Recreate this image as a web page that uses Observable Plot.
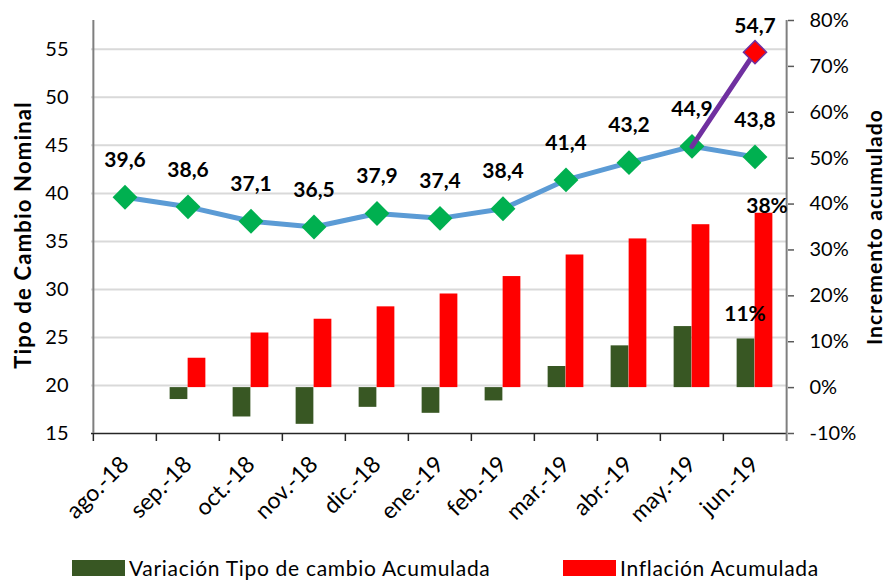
<!DOCTYPE html>
<html><head><meta charset="utf-8">
<script src="https://cdn.jsdelivr.net/npm/d3@7"></script>
<script src="https://cdn.jsdelivr.net/npm/@observablehq/plot@0.6"></script>
<style>
body{margin:0;background:#fff;font-family:Lato,sans-serif;}
#wrap{position:relative;width:887px;height:581px;overflow:hidden;background:#fff;}
#wrap svg{position:absolute;left:0;top:0;}
.leg{position:absolute;top:556px;height:24px;line-height:24px;display:flex;align-items:center;font-size:21px;letter-spacing:0.7px;color:#000;white-space:nowrap;}
.sw{width:53px;height:16px;margin-right:4px;}
</style></head><body><div id="wrap"></div>
<script>
const meses = ["ago.-18","sep.-18","oct.-18","nov.-18","dic.-18","ene.-19","feb.-19","mar.-19","abr.-19","may.-19","jun.-19"];
const tipoCambio = [39.6,38.6,37.1,36.5,37.9,37.4,38.4,41.4,43.2,44.9,43.8];
const variacionTC = [0,-2.6,-6.4,-8.0,-4.3,-5.6,-2.9,4.6,9.1,13.3,10.6];
const inflacion = [0,6.4,11.9,14.9,17.6,20.4,24.2,28.9,32.4,35.5,38.0];
const proyMeses = ["may.-19","jun.-19"];
const proyValores = [44.9,54.7];
const leftTicks = [15,20,25,30,35,40,45,50,55];
const pctTicks = [-10,0,10,20,30,40,50,60,70,80];
const serieNombres = ["Variación Tipo de cambio Acumulada","Inflación Acumulada"];
const ejeIzq = "Tipo de Cambio Nominal";
const ejeDer = "Incremento acumulado";

const rows = meses.map((m,i)=>({mes:m, tc:tipoCambio[i], vtc:variacionTC[i], inf:inflacion[i]}));
const proy = proyMeses.map((m,i)=>({mes:m, v:proyValores[i]}));
const yMin=15, yMax=58, pMin=-10, pMax=80;
const toY = p => yMin + (p - pMin)*(yMax - yMin)/(pMax - pMin);
const fromY = v => pMin + (v - yMin)*(pMax - pMin)/(yMax - yMin);
const W=887, H=540, mL=91, mR=100, mT=20, mB=107;
const bw = (W - mL - mR)/meses.length;
const barW = 18;
const fmt = v => v.toFixed(1).replace(".", ",");
const last = rows[rows.length-1];

const chart = Plot.plot({
  width:W, height:H, marginTop:mT, marginRight:mR, marginBottom:mB, marginLeft:mL,
  style:{fontFamily:"Lato, sans-serif", fontSize:"20px", color:"#000", background:"white", overflow:"visible"},
  x:{type:"band", domain:meses, padding:0, label:null},
  y:{domain:[yMin,yMax], label:null},
  marks:[
    Plot.gridY(leftTicks.filter(t=>t>yMin), {stroke:"#d9d9d9", strokeOpacity:1, strokeWidth:2}),
    Plot.barY(rows.filter(d=>d.vtc!==0), {x:"mes", y1:toY(0), y2:d=>toY(d.vtc), fill:"#385723", insetLeft:bw/2-barW, insetRight:bw/2}),
    Plot.barY(rows.filter(d=>d.inf!==0), {x:"mes", y1:toY(0), y2:d=>toY(d.inf), fill:"#ff0000", insetLeft:bw/2, insetRight:bw/2-barW}),
    Plot.ruleY([yMin], {stroke:"#262626", strokeWidth:1.5}),
    Plot.ruleX([meses[0]], {dx:-bw/2, stroke:"#7f7f7f", strokeWidth:2}),
    Plot.ruleX([meses[meses.length-1]], {dx:bw/2, stroke:"#7f7f7f", strokeWidth:2, insetBottom:-8}),
    Plot.ruleX(meses, {dx:-bw/2, stroke:"#262626", strokeWidth:1.5, insetTop:H-mT-mB, insetBottom:-8}),
    Plot.axisY(leftTicks, {anchor:"left", tickSize:0, tickPadding:23, fontSize:20, label:null}),
    Plot.axisY(pctTicks.map(toY), {anchor:"right", tickSize:6, tickPadding:16, fontSize:20, stroke:"#595959", strokeWidth:1.5, tickFormat:v=>Math.round(fromY(v))+"%", label:null}),
    Plot.axisX({anchor:"bottom", tickSize:0, tickPadding:27, tickRotate:-45, fontSize:23, label:null}),
    Plot.line(rows, {x:"mes", y:"tc", stroke:"#5b9bd5", strokeWidth:5}),
    Plot.dot(rows, {x:"mes", y:"tc", symbol:"diamond2", r:11.2, fill:"#00b050"}),
    Plot.line(proy, {x:"mes", y:"v", stroke:"#7030a0", strokeWidth:5}),
    Plot.dot(proy.slice(1), {x:"mes", y:"v", symbol:"diamond2", r:10.4, fill:"#ff0000", stroke:"#7030a0", strokeWidth:1.5}),
    Plot.text(rows, {x:"mes", y:"tc", text:d=>fmt(d.tc), dy:-37, fontWeight:"bold", fontSize:21}),
    Plot.text(proy.slice(1), {x:"mes", y:"v", text:d=>fmt(d.v), dy:-26, fontWeight:"bold", fontSize:21}),
    Plot.text([last], {x:"mes", y:d=>toY(d.inf), text:d=>Math.round(d.inf)+"%", dx:12, dy:-7, fontWeight:"bold", fontSize:21}),
    Plot.text([last], {x:"mes", y:d=>toY(d.vtc), text:d=>Math.round(d.vtc)+"%", dx:-10, dy:-25, fontWeight:"bold", fontSize:21}),
    Plot.text([ejeIzq], {frameAnchor:"left", dx:-68, dy:8, rotate:-90, textAnchor:"middle", fontWeight:"bold", fontSize:22}),
    Plot.text([ejeDer], {frameAnchor:"right", dx:88, dy:0, rotate:-90, textAnchor:"middle", fontWeight:"bold", fontSize:21})
  ]
});
d3.select(chart).selectAll("text").each(function(){
  if (this.textContent === ejeIzq) d3.select(this).attr("letter-spacing", "1.2px");
  if (this.textContent === ejeDer) d3.select(this).attr("letter-spacing", "1.1px");
});
const wrap = document.getElementById("wrap");
wrap.appendChild(chart);
const cols = ["#385723","#ff0000"];
const lefts = [72,563];
serieNombres.forEach((n,i)=>{
  const d = document.createElement("div");
  d.className = "leg";
  d.style.left = lefts[i]+"px";
  d.innerHTML = `<span class="sw" style="background:${cols[i]}"></span><span>${n}</span>`;
  wrap.appendChild(d);
});
</script></body></html>
